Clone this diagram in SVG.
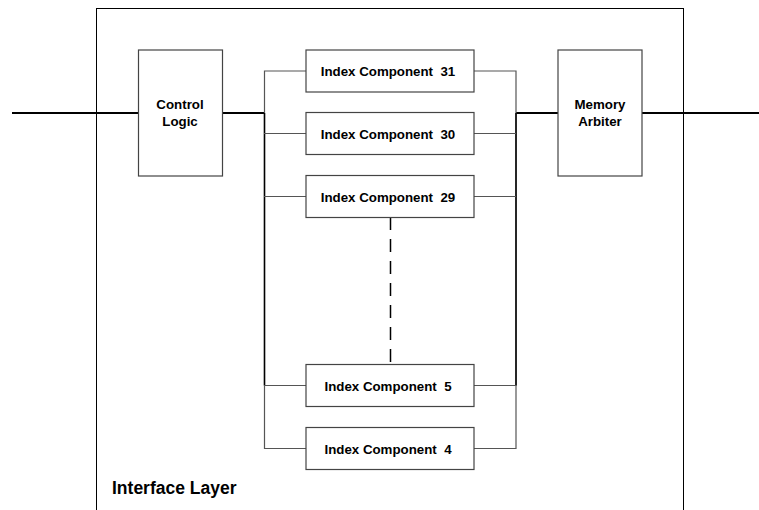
<svg xmlns="http://www.w3.org/2000/svg" width="759" height="510" viewBox="0 0 759 510">
<style>
.box{fill:#fff;stroke:#444;stroke-width:1.2}
.t{font-family:"Liberation Sans",Arial,sans-serif;font-weight:bold;font-size:13.3px;fill:#000;text-anchor:middle}
.thin{stroke:#555;stroke-width:1.2;fill:none}
.dark{stroke:#000;stroke-width:1.5;fill:none}
.thick{stroke:#000;stroke-width:2;fill:none}
</style>
<rect x="96.5" y="8.5" width="587" height="520" fill="none" stroke="#000" stroke-width="1"/>
<text x="112" y="494" font-family="&quot;Liberation Sans&quot;,Arial,sans-serif" font-weight="bold" font-size="17.5px">Interface Layer</text>
<g id="connectors">
<line class="thick" x1="12" y1="113" x2="138" y2="113"/>
<line class="thick" x1="222" y1="113" x2="264" y2="113"/>
<line class="thick" x1="516" y1="113" x2="558" y2="113"/>
<line class="thick" x1="642" y1="113" x2="759" y2="113"/>
<path class="thin" d="M306 71H264.5V448.5H306"/>
<path class="dark" d="M264.5 113V385.5"/>
<path class="thin" d="M474 71H516V448.5H474"/>
<path class="dark" d="M516 113V385.5"/>
<line class="thin" x1="264" y1="133.5" x2="306" y2="133.5"/>
<line class="thin" x1="264" y1="196.5" x2="306" y2="196.5"/>
<line class="thin" x1="264" y1="385.5" x2="306" y2="385.5"/>
<line class="thin" x1="474" y1="133.5" x2="516" y2="133.5"/>
<line class="thin" x1="474" y1="196.5" x2="516" y2="196.5"/>
<line class="thin" x1="474" y1="385.5" x2="516" y2="385.5"/>
<line x1="390.5" y1="217" x2="390.5" y2="364" stroke="#000" stroke-width="1.5" stroke-dasharray="13 9"/>
</g>
<g id="control-logic">
<rect class="box" x="138.5" y="50" width="84" height="126"/>
<text class="t" x="180" y="109">Control</text>
<text class="t" x="180" y="126">Logic</text>
</g>
<g id="memory-arbiter">
<rect class="box" x="558" y="50" width="84" height="126"/>
<text class="t" x="600" y="109">Memory</text>
<text class="t" x="600" y="126">Arbiter</text>
</g>
<g id="ic31">
<rect class="box" x="306" y="50" width="168" height="42"/>
<text class="t" x="388" y="76" xml:space="preserve">Index Component  31</text>
</g>
<g id="ic30">
<rect class="box" x="306" y="112.5" width="168" height="42"/>
<text class="t" x="388" y="138.5" xml:space="preserve">Index Component  30</text>
</g>
<g id="ic29">
<rect class="box" x="306" y="175.5" width="168" height="42"/>
<text class="t" x="388" y="201.5" xml:space="preserve">Index Component  29</text>
</g>
<g id="ic5">
<rect class="box" x="306" y="364.5" width="168" height="42"/>
<text class="t" x="388" y="390.5" xml:space="preserve">Index Component  5</text>
</g>
<g id="ic4">
<rect class="box" x="306" y="427.5" width="168" height="42"/>
<text class="t" x="388" y="453.5" xml:space="preserve">Index Component  4</text>
</g>
</svg>
